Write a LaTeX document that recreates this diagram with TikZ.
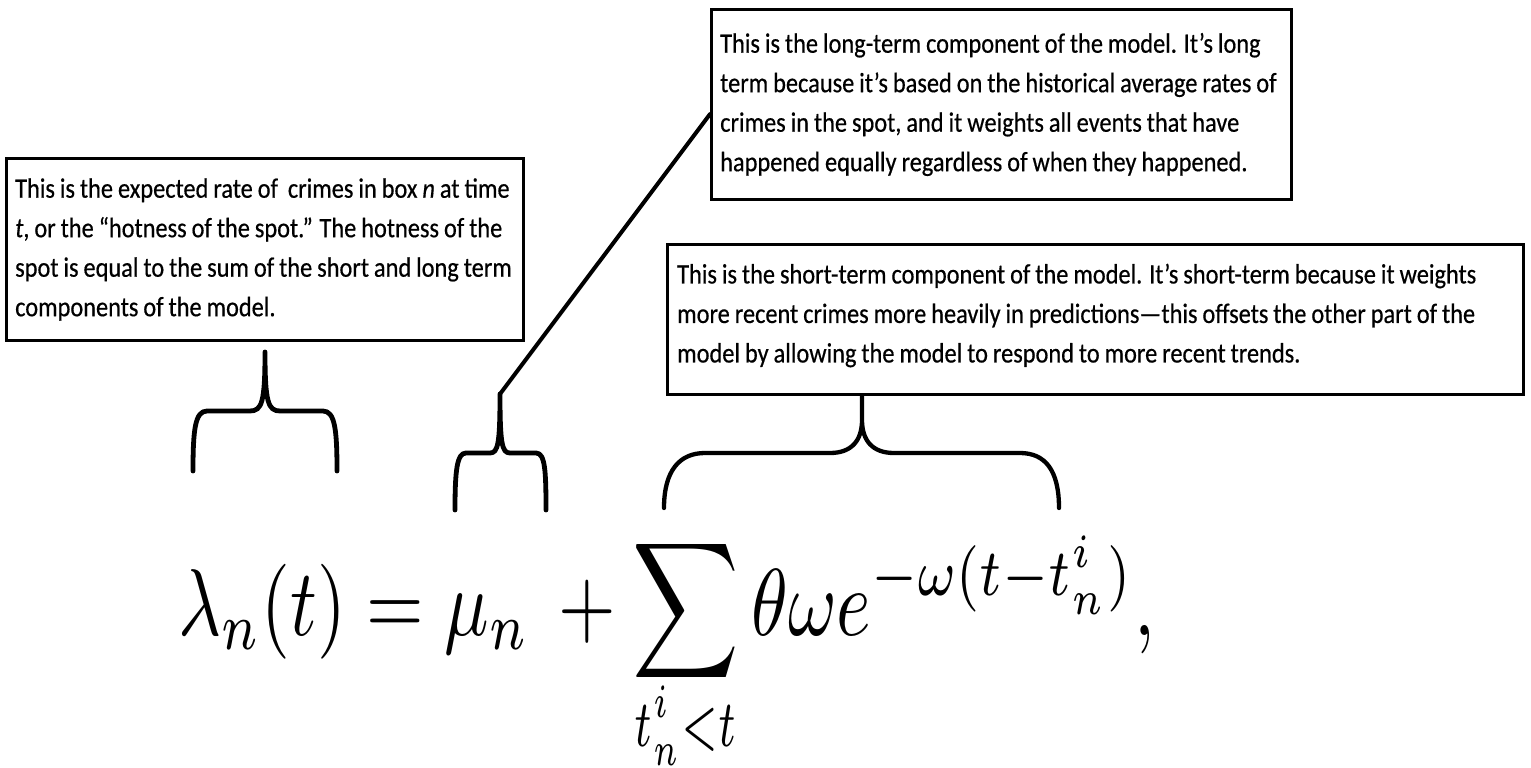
\documentclass[tikz,border=0pt]{standalone}
\usepackage{fontspec}
\usepackage{graphicx}
\setmainfont{Carlito}[FakeStretch=0.87, WordSpace=0.9, FakeBold=0.5]
\usetikzlibrary{calc}
\tikzset{
  notebox/.style={draw=black, line width=3pt, anchor=north west, inner sep=0pt},
  notetext/.style={align=left, anchor=west, inner sep=0pt,
    font=\fontsize{28}{39.5}\selectfont},
  brace/.style={draw=black, line width=4.8pt, line cap=round, line join=round},
  leader/.style={draw=black, line width=4pt, line cap=round},
}
\begin{document}
\begin{tikzpicture}[x=1pt,y=-1pt]
\useasboundingbox (0,0) rectangle (1531,768);
\fill[white] (0,0) rectangle (1531,768);

% boxes
\node[notebox, minimum width=517, minimum height=182] (n1) at (5,157) {};
\node[notetext] (t1) at ($(n1.west)+(10,0)$)
 {This is the expected rate of\ \ crimes in box \textit{n} at time\\
  \textit{t}, or the “hotness of the spot.” The hotness of the\\
  spot is equal to the sum of the short and long term\\
  components of the model.};

\node[notebox, minimum width=580, minimum height=190] (n2) at (710,8) {};
\node[notetext] (t2) at ($(n2.west)+(10,0)$)
 {This is the long-term component of the model. It’s long\\
  term because it’s based on the historical average rates of\\
  crimes in the spot, and it weights all events that have\\
  happened equally regardless of when they happened.};

\node[notebox, minimum width=856, minimum height=150] (n3) at (666,243) {};
\node[notetext] (t3) at ($(n3.west)+(11,-4)$)
 {This is the short-term component of the model. It’s short-term because it weights\\
  more recent crimes more heavily in predictions—this offsets the other part of the\\
  model by allowing the model to respond to more recent trends.};

% brace 1 (under box 1)
\coordinate (b1tip) at (265,352);
\draw[brace] (193,471) .. controls (193,430) and (195,411) .. (207,411)
  -- (250,411) .. controls (262,411) and (265,402) .. (b1tip)
  .. controls (265,402) and (268,411) .. (280,411)
  -- (323,411) .. controls (335,411) and (337,430) .. (337,471);

% brace 2 (mu_n)
\coordinate (b2tip) at (500,394);
\draw[brace] (455,510) .. controls (455,470) and (457,453) .. (466,453)
  -- (490,453) .. controls (498,453) and (500,444) .. (b2tip)
  .. controls (500,444) and (502,453) .. (510,453)
  -- (536,453) .. controls (545,453) and (546,470) .. (546,510);

% brace 3 (sum)
\coordinate (b3tip) at (n3.south -| 862,0);
\draw[brace, line width=4.3pt] (664,508) .. controls (664,470) and (680,453) .. (705,453)
  -- (830,453) .. controls (852,453) and (862,440) .. (862,420) -- (b3tip)
  (862,420) .. controls (862,440) and (872,453) .. (894,453)
  -- (1020,453) .. controls (1045,453) and (1059,470) .. (1059,508);

% leader line from brace 2 to box 2
\draw[leader] (b2tip) -- ($(n2.north west)!0.55!(n2.south west)$);

% equation
\node[anchor=base west, inner sep=0pt] (eq) at (178,635)
 {\scalebox{7.4}[9.5]{$\displaystyle \lambda_n(t) = \mu_n \mkern3mu + \begin{array}[t]{@{}c@{}}\displaystyle\sum\\[-2.2pt]
 \scalebox{0.8}[1]{$\scriptstyle t_n^i<t$}\end{array}\, \theta\omega e^{-\omega(t-t_n^i)},$}};
\end{tikzpicture}
\end{document}
